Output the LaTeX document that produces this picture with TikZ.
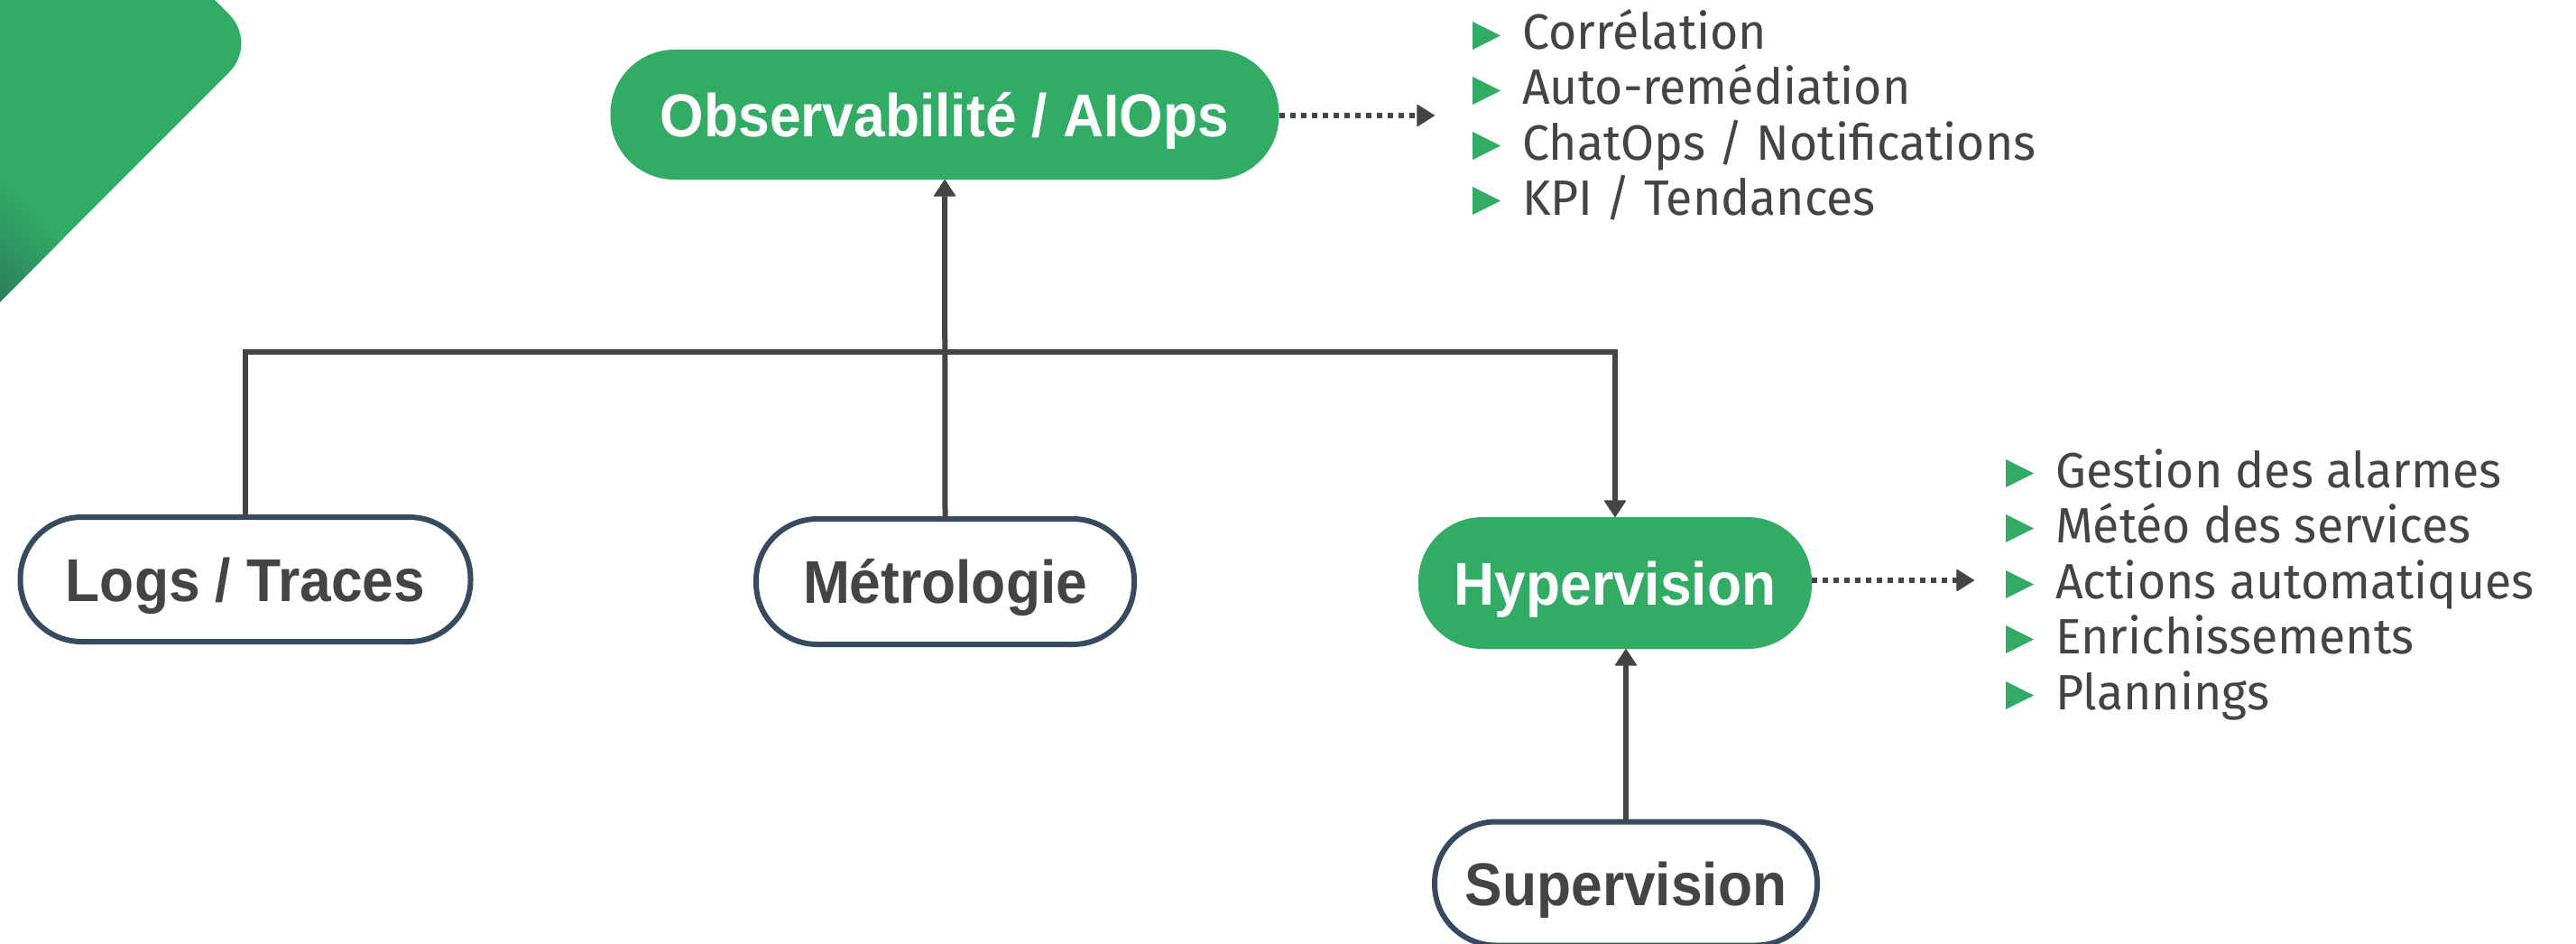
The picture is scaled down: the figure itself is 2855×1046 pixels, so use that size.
\documentclass[tikz,border=0pt]{standalone}
\usepackage{fontspec}
\setmainfont[FakeStretch=0.975]{Fira Sans}
\newfontfamily\nodefont[FakeStretch=0.93]{Liberation Sans}
\usetikzlibrary{arrows.meta}
\definecolor{brandgreen}{RGB}{50,172,101}
\definecolor{darkgreen}{RGB}{44,118,92}
\definecolor{linegray}{RGB}{68,68,68}
\definecolor{borderblue}{RGB}{54,74,96}
\definecolor{textgray}{RGB}{68,68,68}
\begin{document}
\begin{tikzpicture}[x=1pt,y=-1pt,
  pill/.style={rectangle, outer sep=0pt, inner sep=0pt, text height=48pt, text depth=0pt,
    font=\nodefont\bfseries\fontsize{67}{80}\selectfont, align=center},
  greenpill/.style={pill, fill=brandgreen, text=white, rounded corners=71pt},
  whitepill/.style={pill, draw=borderblue, line width=6pt, fill=white, text=textgray, rounded corners=68pt},
  link/.style={draw=linegray, line width=6pt},
  tiparrow/.style={-{Triangle[length=19pt,width=25pt,line width=1pt,round]}},
  dotlink/.style={link, dash pattern=on 6pt off 6pt, -{Triangle[length=20pt,width=25pt,line width=1pt,round]}},
  listitem/.style={anchor=base west, inner sep=0pt, text=textgray, font=\fontsize{55}{66}\selectfont},
  bulletmark/.style={fill=brandgreen}
]
\useasboundingbox[fill=white] (0,0) rectangle (2855,1046);

% decorative corner shape
\begin{scope}
  \clip (0,0) rectangle (2855,1046);
  \path[clip, rounded corners=45pt] (-300,-300) -- (-62,-300) -- (286,48) -- (-300,634) -- cycle;
  \fill[brandgreen] (-300,-300) rectangle (400,700);
  \foreach \i in {0,...,40}{
    \pgfmathsetmacro{\c}{-190-\i*4}
    \pgfmathsetmacro{\p}{100-\i*2.5}
    \fill[brandgreen!\p!darkgreen] (-400,-400-\c) -- (400,400-\c) -- (400,1000) -- (-400,1000) -- cycle;
  }
\end{scope}

% nodes
\node[greenpill, minimum width=741pt, minimum height=144pt] (obs) at (1047,127) {Observabilité / AIOps};
\node[whitepill, minimum width=499pt, minimum height=138pt] (logs) at (272,642) {Logs / Traces};
\node[whitepill, minimum width=419pt, minimum height=139pt] (metro) at (1047.5,644.5) {Métrologie};
\node[greenpill, minimum width=436pt, minimum height=146pt] (hyp) at (1790,646) {Hypervision};
\node[whitepill, minimum width=424pt, minimum height=137pt] (sup) at (1802,979) {Supervision};

% connectors
\coordinate (bus) at (0,390);
\draw[link, tiparrow] (logs.north) |- (bus -| hyp.north) -- (hyp.north);
\draw[link, tiparrow] (metro.north) -- (obs.south);
\draw[link, tiparrow] (sup.north) -- (sup.north |- hyp.south);
\coordinate (obsend) at (1590,128);
\coordinate (hypend) at (2188,643);
\draw[dotlink] (obs.east |- obsend) -- (obsend);
\draw[dotlink] (hyp.east |- hypend) -- (hypend);

% top list
\foreach \t/\b [count=\k] in {Corrélation/55, Auto-remédiation/116, {ChatOps / Notifications}/177, {KPI / Tendances}/238}{
  \fill[bulletmark] (1632,\b-31) -- (1632,\b) -- (1663,\b-15.5) -- cycle;
  \node[listitem] (top\k) at (1687,\b) {\t};
}
% right list
\foreach \t/\b [count=\k] in {Gestion des alarmes/540, Météo des services/601, Actions automatiques/663, Enrichissements/724, Plannings/786}{
  \fill[bulletmark] (2223,\b-31) -- (2223,\b) -- (2254,\b-15.5) -- cycle;
  \node[listitem] (right\k) at (2278,\b) {\t};
}
\end{tikzpicture}
\end{document}
